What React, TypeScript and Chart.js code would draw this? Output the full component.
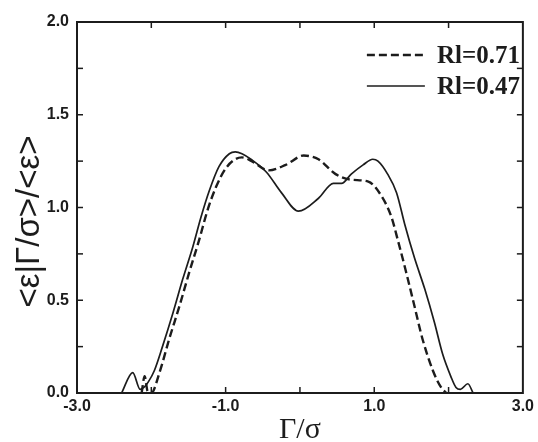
import { useEffect, useRef } from 'react';
import { Chart, registerables } from 'chart.js';

Chart.register(...registerables);

// ---- data ----
const seriesLabels = ['Rl=0.71', 'Rl=0.47'];

const dashedX = [-2.13, -2.09, -2.05, -2.00, -1.89, -1.76, -1.62, -1.49, -1.36, -1.24, -1.13, -1.00, -0.87, -0.78, -0.65, -0.42, -0.19, 0.05, 0.25, 0.48, 0.69, 0.92, 1.10, 1.23, 1.32, 1.43, 1.54, 1.65, 1.79, 1.90, 1.97];
const dashedY = [0.00, 0.09, 0.01, 0.00, 0.11, 0.29, 0.47, 0.65, 0.82, 0.99, 1.11, 1.21, 1.26, 1.27, 1.25, 1.20, 1.23, 1.28, 1.26, 1.18, 1.15, 1.14, 1.06, 0.95, 0.82, 0.65, 0.47, 0.29, 0.12, 0.03, 0.00];

const solidX = [-2.40, -2.25, -2.15, -2.10, -2.04, -1.96, -1.85, -1.71, -1.58, -1.44, -1.33, -1.22, -1.09, -0.95, -0.87, -0.78, -0.66, -0.45, -0.25, -0.02, 0.25, 0.45, 0.56, 0.69, 0.85, 0.98, 1.05, 1.18, 1.30, 1.41, 1.54, 1.68, 1.81, 1.92, 2.03, 2.10, 2.16, 2.26, 2.33];
const solidY = [0.00, 0.11, 0.02, 0.03, 0.06, 0.12, 0.25, 0.43, 0.61, 0.79, 0.95, 1.09, 1.22, 1.29, 1.30, 1.29, 1.26, 1.19, 1.08, 0.98, 1.05, 1.13, 1.13, 1.18, 1.23, 1.26, 1.25, 1.18, 1.08, 0.91, 0.73, 0.56, 0.38, 0.21, 0.09, 0.03, 0.02, 0.05, 0.00];

const xLabeledTicks = [-3, -1, 1, 3];
const xMinorTicks = [-2, -1, 0, 1, 2];
const yLabeledTicks = [0, 0.5, 1.0, 1.5, 2.0];
const yMinorTicks = [0.25, 0.5, 0.75, 1.0, 1.25, 1.5, 1.75];

const xTitle = 'Γ/σ';
const yTitle = '<ε|Γ/σ>/<ε>';

const INK = '#1c1c1c';

const overlay = {
  id: 'overlay',
  afterDraw(chart: any) {
    const { ctx, chartArea, scales } = chart;
    const { left, right, top, bottom } = chartArea;
    const x = scales.x;
    const y = scales.y;
    const line = (x1: number, y1: number, x2: number, y2: number) => {
      ctx.beginPath();
      ctx.moveTo(x1, y1);
      ctx.lineTo(x2, y2);
      ctx.stroke();
    };
    ctx.save();
    ctx.strokeStyle = INK;
    ctx.lineWidth = 2;
    ctx.strokeRect(left, top, right - left, bottom - top);
    ctx.lineWidth = 1.5;
    for (const v of xMinorTicks) {
      const px = x.getPixelForValue(v);
      line(px, bottom, px, bottom - 6);
      line(px, top, px, top + 6);
    }
    for (const v of yMinorTicks) {
      const py = y.getPixelForValue(v);
      line(left, py, left + 6, py);
      line(right, py, right - 6, py);
    }
    // axis titles
    ctx.fillStyle = INK;
    ctx.textAlign = 'center';
    ctx.textBaseline = 'middle';
    ctx.font = '30px "Liberation Serif"';
    ctx.fillText(xTitle, (left + right) / 2, bottom + 37);
    ctx.save();
    ctx.translate(left - 47, (top + bottom) / 2 + 14);
    ctx.rotate(-Math.PI / 2);
    ctx.font = '33px "Liberation Sans"';
    ctx.fillText(yTitle, 0, 0);
    ctx.restore();
    // legend
    chart.data.datasets.forEach((ds: any, i: number) => {
      const yy = top + 33 + i * 31;
      ctx.lineWidth = ds.borderWidth;
      ctx.setLineDash(ds.borderDash || []);
      line(right - 156, yy, right - 98, yy);
      ctx.setLineDash([]);
      ctx.font = 'bold 25px "Liberation Serif"';
      ctx.textAlign = 'right';
      ctx.fillText(ds.label, right - 3, yy + 2);
    });
    ctx.restore();
  },
};

export default function App() {
  const ref = useRef<HTMLCanvasElement>(null);
  useEffect(() => {
    document.body.style.margin = '0';
    const chart = new Chart(ref.current as HTMLCanvasElement, {
      type: 'line',
      data: {
        datasets: [
          {
            label: seriesLabels[0],
            data: dashedX.map((v, i) => ({ x: v, y: dashedY[i] })),
            borderColor: INK,
            borderWidth: 2.4,
            borderDash: [8, 4],
            pointRadius: 0,
            cubicInterpolationMode: 'monotone',
            fill: false,
          },
          {
            label: seriesLabels[1],
            data: solidX.map((v, i) => ({ x: v, y: solidY[i] })),
            borderColor: INK,
            borderWidth: 1.7,
            pointRadius: 0,
            cubicInterpolationMode: 'monotone',
            fill: false,
          },
        ],
      },
      options: {
        animation: false,
        responsive: false,
        layout: { padding: { top: 22, right: 12, left: 0, bottom: 0 } },
        plugins: { legend: { display: false }, tooltip: { enabled: false } },
        scales: {
          x: {
            type: 'linear',
            min: -3,
            max: 3,
            grid: { drawOnChartArea: false, drawTicks: false },
            border: { display: false },
            ticks: {
              stepSize: 1,
              autoSkip: false,
              maxRotation: 0,
              color: INK,
              padding: 4,
              font: { family: 'Liberation Sans', size: 16, weight: 'bold' },
              callback: (v: any) => (xLabeledTicks.includes(Number(v)) ? Number(v).toFixed(1) : ''),
            },
            afterFit: (s: any) => {
              s.height = 49;
            },
          },
          y: {
            type: 'linear',
            min: 0,
            max: 2,
            grid: { drawOnChartArea: false, drawTicks: false },
            border: { display: false },
            ticks: {
              stepSize: 0.5,
              color: INK,
              padding: 8,
              font: { family: 'Liberation Sans', size: 16, weight: 'bold' },
              callback: (v: any) => (yLabeledTicks.includes(Number(v)) ? Number(v).toFixed(1) : ''),
            },
            afterFit: (s: any) => {
              s.width = 77;
            },
          },
        },
      },
      plugins: [overlay],
    } as any);
    return () => chart.destroy();
  }, []);
  return <canvas ref={ref} width={538} height={442} style={{ display: 'block' }} />;
}
